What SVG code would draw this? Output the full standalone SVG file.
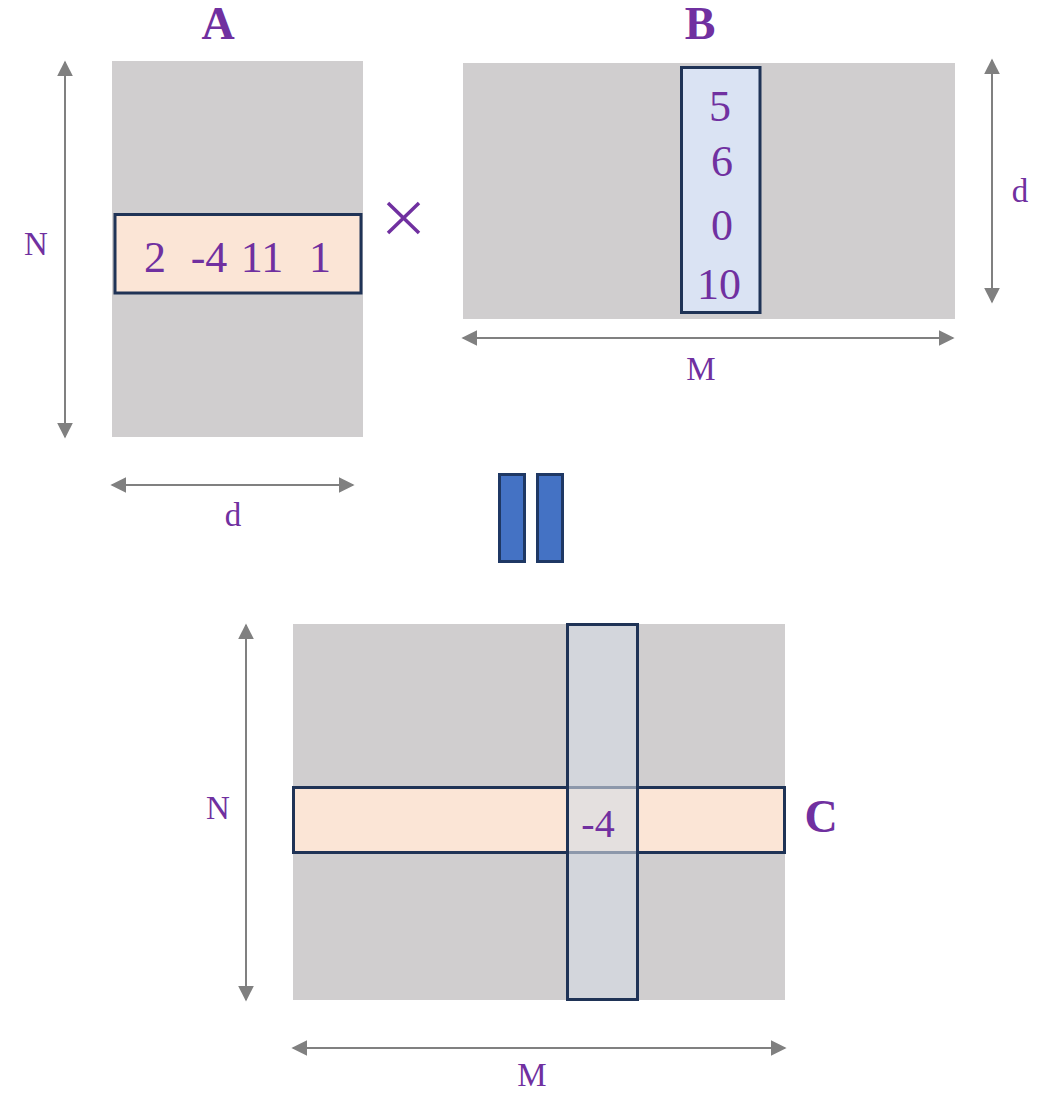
<svg xmlns="http://www.w3.org/2000/svg" width="1043" height="1094" viewBox="0 0 1043 1094">
<defs>
<style>
.mat{fill:#D0CECF}
.row{fill:#FBE5D6;stroke:#1F3356;stroke-width:3}
.col{fill:#DAE3F3;stroke:#1F3356;stroke-width:3}
.t{font-family:"Liberation Serif","DejaVu Serif",serif;fill:#7030A0;text-anchor:middle}
.num{font-size:44px}
.lbl{font-size:33px}
.big{font-size:46px;font-weight:bold}
.dim{stroke:#808080;stroke-width:2;fill:none;marker-start:url(#ah);marker-end:url(#ah)}
.eq{fill:#4472C4;stroke:#1F3864;stroke-width:3}
</style>
<marker id="ah" viewBox="0 0 10 10" refX="9" refY="5" markerWidth="8" markerHeight="8" orient="auto-start-reverse" markerUnits="strokeWidth">
<path d="M0,0 L10,5 L0,10 Z" fill="#808080"/>
</marker>
</defs>

<g id="matrixA">
<rect class="mat" x="112" y="61" width="251" height="376"/>
<rect class="row" x="115" y="214.5" width="246" height="78.5"/>
<text class="t num" x="155" y="272">2</text>
<text class="t num" x="209" y="272">-4</text>
<text class="t num" x="262" y="272">11</text>
<text class="t num" x="320" y="272">1</text>
<text class="t big" x="218" y="39">A</text>
</g>

<g id="times">
<path d="M388,203 L419,233 M419,203 L388,233" stroke="#7030A0" stroke-width="3.5" fill="none"/>
</g>

<g id="matrixB">
<rect class="mat" x="463" y="63" width="492" height="256"/>
<rect class="col" x="681.5" y="67.5" width="78.5" height="245"/>
<text class="t num" x="720" y="121">5</text>
<text class="t num" x="722" y="176">6</text>
<text class="t num" x="722" y="240">0</text>
<text class="t num" x="719" y="299">10</text>
<text class="t big" x="700" y="39">B</text>
</g>

<g id="equals">
<rect class="eq" x="499.5" y="474.5" width="25" height="87"/>
<rect class="eq" x="537.5" y="474.5" width="25" height="87"/>
</g>

<g id="matrixC">
<rect class="mat" x="293" y="624" width="492" height="376"/>
<rect class="row" x="293.5" y="787.5" width="491" height="65"/>
<rect x="567.5" y="624.5" width="70" height="375" fill="#D6DCE5" fill-opacity="0.6" stroke="#1F3356" stroke-width="3"/>
<text class="t" x="598" y="837" font-size="40">-4</text>
<text class="t big" x="821" y="832" text-anchor="start">C</text>
</g>

<g id="connectors">
<line class="dim" x1="65" y1="62" x2="65" y2="437"/>
<line class="dim" x1="112" y1="485" x2="353" y2="485"/>
<line class="dim" x1="992" y1="60" x2="992" y2="302"/>
<line class="dim" x1="463" y1="338" x2="953" y2="338"/>
<line class="dim" x1="246" y1="625" x2="246" y2="1000"/>
<line class="dim" x1="293" y1="1048" x2="785" y2="1048"/>
</g>

<g id="labels">
<text class="t lbl" x="36" y="255">N</text>
<text class="t lbl" x="233" y="526">d</text>
<text class="t lbl" x="1020" y="202">d</text>
<text class="t lbl" x="701" y="380">M</text>
<text class="t lbl" x="218" y="819">N</text>
<text class="t lbl" x="532" y="1086">M</text>
</g>
</svg>
